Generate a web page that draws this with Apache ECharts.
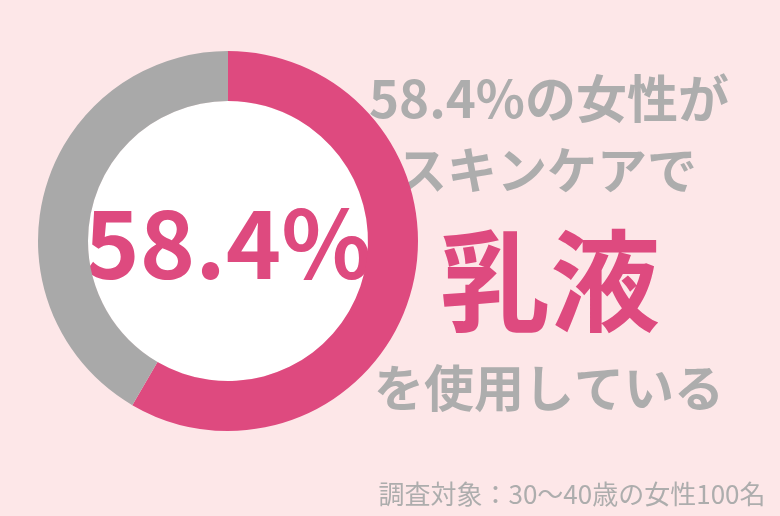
<!DOCTYPE html>
<html>
<head>
<meta charset="utf-8">
<script src="https://cdn.jsdelivr.net/npm/echarts@6/dist/echarts.min.js"></script>
<style>
    html, body { margin: 0; padding: 0; background: #fde7e8; }
    #echartDonut { width: 780px; height: 516px; }
</style>
</head>
<body>
<div id="echartDonut"></div>
<script>
    // chart data
    let categories = ['使用している', '使用していない'];
    let values = [58.4, 41.6];
    let headLines = ['58.4%の女性が', 'スキンケアで'];
    let itemName = '乳液';
    let tailLine = 'を使用している';
    let note = '調査対象：30～40歳の女性100名';

    let pink = '#de4a7f';
    let gray = '#a9a9a9';
    let textGray = '#adadad';
    let font = '"Noto Sans CJK JP", "Noto Sans", sans-serif';

    let echartElemDonut = document.getElementById('echartDonut');
    if (echartElemDonut) {
        let echartDonut = echarts.init(echartElemDonut);

        function textEl(text, x, y, size, color, weight, align) {
            return {
                type: 'text',
                x: x,
                y: y,
                style: {
                    text: text,
                    fill: color,
                    font: weight + ' ' + size + 'px ' + font,
                    textAlign: align || 'center',
                    textVerticalAlign: 'middle'
                }
            };
        }

        echartDonut.setOption({
            backgroundColor: '#fde7e8',
            animation: false,
            graphic: [
                { type: 'circle', shape: { cx: 228, cy: 241, r: 140 }, style: { fill: '#ffffff' }, z: -1 },
                textEl(values[0] + '%', 228, 243, 94, pink, 'bold'),
                textEl(headLines[0], 549, 99, 51, textGray, 'bold'),
                textEl(headLines[1], 547, 170, 50, textGray, 'bold'),
                textEl(itemName, 550, 281, 110, pink, 'bold'),
                textEl(tailLine, 549, 388, 50, textGray, 'bold'),
                textEl(note, 572, 494, 26, textGray, 'normal')
            ],
            series: [{
                name: 'スキンケア',
                type: 'pie',
                radius: [140, 190],
                center: [228, 241],
                startAngle: 90,
                clockwise: true,
                label: { show: false },
                labelLine: { show: false },
                silent: true,
                color: [pink, gray],
                data: categories.map((c, i) => ({ name: c, value: values[i] }))
            }]
        });
    }
</script>
</body>
</html>
